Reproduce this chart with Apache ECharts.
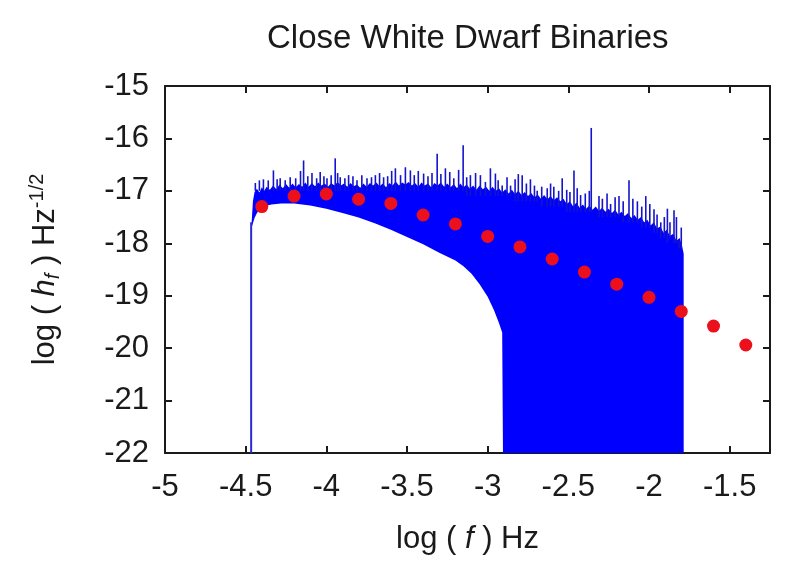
<!DOCTYPE html>
<html>
<head>
<meta charset="utf-8">
<script src="https://cdn.jsdelivr.net/npm/echarts@6/dist/echarts.min.js"></script>
<style>
  html, body { margin: 0; padding: 0; background: #ffffff; }
  #chart { width: 807px; height: 564px; }
</style>
</head>
<body>
<div id="chart"></div>
<script>
// Axis ranges (log10 of frequency / strain amplitude)
const xRange = [-5, -1.25];
const yRange = [-22, -15];

// Upper edge of the binned spectrum (log f, log h_f)
const bandTop = [
  [-4.463, -17.6], [-4.455, -17.2], [-4.445, -17.02], [-4.43, -16.96], [-4.415, -17.03],
  [-4.40, -16.93], [-4.385, -17.0], [-4.37, -16.92], [-4.35, -16.98], [-4.33, -16.9],
  [-4.31, -16.97], [-4.29, -16.88], [-4.27, -16.95], [-4.25, -16.87], [-4.23, -16.94],
  [-4.21, -16.86], [-4.19, -16.93], [-4.17, -16.87], [-4.15, -16.92], [-4.13, -16.84],
  [-4.11, -16.92], [-4.09, -16.85], [-4.07, -16.91], [-4.05, -16.84], [-4.03, -16.9],
  [-4.01, -16.86], [-3.99, -16.92], [-3.97, -16.85], [-3.95, -16.9], [-3.93, -16.83],
  [-3.91, -16.9], [-3.89, -16.86], [-3.87, -16.92], [-3.85, -16.85], [-3.83, -16.91],
  [-3.81, -16.88], [-3.79, -16.94], [-3.77, -16.86], [-3.75, -16.92], [-3.73, -16.85],
  [-3.71, -16.9], [-3.69, -16.84], [-3.67, -16.91], [-3.65, -16.86], [-3.63, -16.93],
  [-3.61, -16.85], [-3.59, -16.9], [-3.57, -16.82], [-3.55, -16.9], [-3.53, -16.84],
  [-3.51, -16.88], [-3.49, -16.83], [-3.47, -16.9], [-3.45, -16.85], [-3.43, -16.92],
  [-3.41, -16.84], [-3.39, -16.9], [-3.37, -16.86], [-3.35, -16.93], [-3.33, -16.85],
  [-3.31, -16.9], [-3.29, -16.84], [-3.27, -16.92], [-3.25, -16.86], [-3.23, -16.93],
  [-3.21, -16.87], [-3.19, -16.95], [-3.17, -16.86], [-3.15, -16.93], [-3.13, -16.88],
  [-3.11, -16.96], [-3.09, -16.9], [-3.07, -16.98], [-3.05, -16.9], [-3.03, -16.97],
  [-3.01, -16.92], [-2.99, -17.0], [-2.97, -16.92], [-2.95, -17.0], [-2.93, -16.95],
  [-2.91, -17.03], [-2.89, -16.97], [-2.87, -17.05], [-2.85, -16.98], [-2.83, -17.06],
  [-2.81, -17.0], [-2.79, -17.08], [-2.77, -17.02], [-2.75, -17.1], [-2.73, -17.04],
  [-2.71, -17.12], [-2.69, -17.07], [-2.67, -17.15], [-2.65, -17.08], [-2.63, -17.16],
  [-2.61, -17.1], [-2.59, -17.18], [-2.57, -17.12], [-2.55, -17.2], [-2.53, -17.15],
  [-2.51, -17.25], [-2.49, -17.2], [-2.47, -17.3], [-2.45, -17.22], [-2.43, -17.32],
  [-2.41, -17.26], [-2.39, -17.34], [-2.37, -17.28], [-2.35, -17.36], [-2.33, -17.3],
  [-2.31, -17.38], [-2.29, -17.32], [-2.27, -17.4], [-2.25, -17.34], [-2.23, -17.42],
  [-2.21, -17.36], [-2.19, -17.45], [-2.17, -17.4], [-2.15, -17.48], [-2.13, -17.42],
  [-2.11, -17.52], [-2.09, -17.46], [-2.07, -17.55], [-2.05, -17.5], [-2.03, -17.6],
  [-2.01, -17.55], [-1.99, -17.66], [-1.97, -17.6], [-1.95, -17.72], [-1.93, -17.68],
  [-1.91, -17.8], [-1.89, -17.74], [-1.87, -17.86], [-1.85, -17.82], [-1.83, -17.95],
  [-1.81, -17.9], [-1.795, -18.05], [-1.785, -18.2]
];

// Lower edge of the spectrum; above log f = -2.9 it runs down to the axis floor
const bandBottom = [
  [-4.463, -17.7], [-4.455, -17.62], [-4.445, -17.52], [-4.43, -17.42], [-4.41, -17.35],
  [-4.38, -17.29], [-4.34, -17.26], [-4.28, -17.24], [-4.2, -17.24], [-4.1, -17.28],
  [-4.0, -17.34], [-3.9, -17.42], [-3.8, -17.51], [-3.7, -17.62], [-3.6, -17.74],
  [-3.5, -17.88], [-3.4, -18.02], [-3.3, -18.18], [-3.2, -18.33], [-3.15, -18.44],
  [-3.1, -18.58], [-3.05, -18.78], [-3.0, -19.02], [-2.96, -19.28], [-2.93, -19.52],
  [-2.91, -19.7], [-2.905, -22], [-1.785, -22]
];

// Low-frequency cut-off of the population
const edgeLine = [[-4.466, -22], [-4.466, -17.6]];

// Individual loud sources: [log f, peak, foot]
const spikes = [
  [-4.44, -16.85, -17.0], [-4.415, -16.80, -17.0], [-4.39, -16.78, -17.0],
  [-4.36, -16.80, -17.0], [-4.328, -16.61, -17.0], [-4.305, -16.78, -17.0],
  [-4.286, -16.76, -17.0], [-4.255, -16.80, -17.0], [-4.224, -16.74, -17.0],
  [-4.19, -16.76, -17.0], [-4.16, -16.62, -17.0], [-4.141, -16.42, -17.0],
  [-4.115, -16.72, -17.0], [-4.089, -16.66, -17.0], [-4.06, -16.76, -17.0],
  [-4.038, -16.64, -17.0], [-4.015, -16.72, -17.0], [-3.996, -16.76, -17.0],
  [-3.97, -16.70, -17.0], [-3.945, -16.38, -17.0], [-3.93, -16.66, -17.0],
  [-3.914, -16.74, -17.0], [-3.885, -16.76, -17.0], [-3.862, -16.70, -17.0],
  [-3.835, -16.72, -17.0], [-3.81, -16.80, -17.0], [-3.78, -16.70, -17.0],
  [-3.748, -16.76, -17.0], [-3.72, -16.74, -17.0], [-3.696, -16.70, -17.0],
  [-3.67, -16.66, -17.0], [-3.645, -16.74, -17.0], [-3.62, -16.72, -17.0],
  [-3.595, -16.62, -17.0], [-3.572, -16.57, -17.0], [-3.54, -16.70, -17.0],
  [-3.51, -16.55, -17.0], [-3.479, -16.61, -17.0], [-3.455, -16.70, -17.0],
  [-3.43, -16.62, -17.0], [-3.397, -16.67, -17.0], [-3.37, -16.72, -17.0],
  [-3.345, -16.66, -17.0], [-3.313, -16.29, -17.0], [-3.29, -16.68, -17.0],
  [-3.262, -16.57, -17.0], [-3.235, -16.64, -17.0], [-3.21, -16.76, -17.0],
  [-3.18, -16.60, -17.0], [-3.152, -16.13, -17.0], [-3.13, -16.74, -17.1],
  [-3.107, -16.70, -17.1], [-3.075, -16.66, -17.1], [-3.045, -16.70, -17.1],
  [-3.014, -16.83, -17.1], [-2.983, -16.57, -17.1], [-2.952, -16.67, -17.1],
  [-2.935, -16.80, -17.1], [-2.91, -16.90, -17.1], [-2.88, -16.74, -17.1],
  [-2.858, -16.90, -17.1], [-2.83, -16.78, -17.2], [-2.81, -16.68, -17.2],
  [-2.786, -16.70, -17.2], [-2.76, -16.86, -17.2], [-2.735, -16.78, -17.2],
  [-2.71, -16.90, -17.2], [-2.693, -17.00, -17.2], [-2.665, -16.92, -17.3],
  [-2.631, -16.95, -17.3], [-2.61, -16.86, -17.3], [-2.59, -16.92, -17.3],
  [-2.56, -17.00, -17.3], [-2.538, -16.76, -17.3], [-2.51, -16.98, -17.4],
  [-2.49, -17.02, -17.4], [-2.465, -16.61, -17.4], [-2.445, -16.95, -17.4],
  [-2.424, -17.08, -17.4], [-2.395, -17.05, -17.4], [-2.37, -17.00, -17.4],
  [-2.358, -15.80, -17.4], [-2.31, -17.10, -17.5], [-2.289, -17.15, -17.5],
  [-2.26, -17.05, -17.5], [-2.238, -17.25, -17.5], [-2.21, -17.12, -17.5],
  [-2.186, -17.10, -17.5], [-2.16, -17.20, -17.6], [-2.124, -16.80, -17.6],
  [-2.10, -17.15, -17.6], [-2.072, -17.20, -17.6], [-2.045, -17.30, -17.7],
  [-2.02, -17.10, -17.7], [-1.995, -17.25, -17.7], [-1.969, -17.35, -17.8],
  [-1.95, -17.45, -17.8], [-1.927, -17.60, -17.9], [-1.905, -17.50, -17.9],
  [-1.886, -17.34, -18.0], [-1.87, -17.60, -17.9], [-1.845, -17.37, -18.0],
  [-1.83, -17.50, -18.0], [-1.814, -17.95, -18.1], [-1.80, -17.70, -18.1]
];

// Averaged spectrum in bins of 0.2 dex
const binFreq = [-4.4, -4.2, -4.0, -3.8, -3.6, -3.4, -3.2, -3.0,
                 -2.8, -2.6, -2.4, -2.2, -2.0, -1.8, -1.6, -1.4];
const binAmp = [-17.30, -17.10, -17.06, -17.16, -17.24, -17.46, -17.63, -17.87,
                -18.07, -18.30, -18.55, -18.78, -19.03, -19.30, -19.58, -19.94];

const FONT = 'Liberation Sans, Arial, Helvetica, sans-serif';
const INK = '#1a1a1a';
const BLUE = '#0000ff';

const chart = echarts.init(document.getElementById('chart'), null, { renderer: 'canvas' });

const frameLine = { show: true, onZero: false, lineStyle: { color: INK, width: 2 } };
const innerTick = { show: true, inside: true, length: 7, lineStyle: { color: INK, width: 2 } };

chart.setOption({
  animation: false,
  backgroundColor: '#ffffff',
  title: {
    text: 'Close White Dwarf Binaries',
    left: 262,
    top: 17,
    textStyle: { fontFamily: FONT, fontSize: 33, fontWeight: 'normal', color: INK }
  },
  grid: { left: 165, right: 37, top: 86, bottom: 111, containLabel: false },
  xAxis: [
    {
      type: 'value', position: 'bottom', min: xRange[0], max: xRange[1], interval: 0.5,
      axisLine: frameLine, axisTick: innerTick, splitLine: { show: false },
      axisLabel: { showMaxLabel: false, margin: 19, fontFamily: FONT, fontSize: 31, color: INK },
      name: '{t|log ( }{it|f}{t| ) Hz}',
      nameLocation: 'middle', nameGap: 71,
      nameTextStyle: {
        rich: {
          t: { fontFamily: FONT, fontSize: 31, color: INK },
          it: { fontFamily: FONT, fontSize: 31, fontStyle: 'italic', color: INK }
        }
      }
    },
    {
      type: 'value', position: 'top', min: xRange[0], max: xRange[1], interval: 0.5,
      axisLine: frameLine, axisTick: innerTick, splitLine: { show: false },
      axisLabel: { show: false }
    }
  ],
  yAxis: [
    {
      type: 'value', position: 'left', min: yRange[0], max: yRange[1], interval: 1,
      axisLine: frameLine, axisTick: innerTick, splitLine: { show: false },
      axisLabel: { margin: 16, fontFamily: FONT, fontSize: 31, color: INK },
      name: '{t|log ( }{it|h}{sub|f}{t| ) Hz}{sup|-1/2}',
      nameLocation: 'middle', nameGap: 100,
      nameTextStyle: {
        rich: {
          t: { fontFamily: FONT, fontSize: 31, color: INK, lineHeight: 40, verticalAlign: 'middle' },
          it: { fontFamily: FONT, fontSize: 31, fontStyle: 'italic', color: INK, lineHeight: 40, verticalAlign: 'middle' },
          sub: { fontFamily: FONT, fontSize: 20, fontStyle: 'italic', color: INK, lineHeight: 40, verticalAlign: 'bottom', padding: [0, 0, 2, 0] },
          sup: { fontFamily: FONT, fontSize: 20, color: INK, lineHeight: 40, verticalAlign: 'top', padding: [2, 0, 0, 0] }
        }
      }
    },
    {
      type: 'value', position: 'right', min: yRange[0], max: yRange[1], interval: 1,
      axisLine: frameLine, axisTick: innerTick, splitLine: { show: false },
      axisLabel: { show: false }
    }
  ],
  series: [
    {
      // filled envelope of the spectrum
      type: 'custom',
      data: bandTop,
      encode: { x: 0, y: 1 },
      z: 2,
      silent: true,
      renderItem: function (params, api) {
        if (params.dataIndex !== 0) return null;
        const outline = bandTop.map(function (p) { return api.coord(p); })
          .concat(bandBottom.slice().reverse().map(function (p) { return api.coord(p); }));
        return { type: 'polygon', shape: { points: outline }, style: { fill: BLUE } };
      }
    },
    {
      // narrow peaks from bright individual binaries
      type: 'custom',
      data: spikes,
      encode: { x: 0, y: [1, 2] },
      z: 3,
      silent: true,
      renderItem: function (params, api) {
        const tip = api.coord([api.value(0), api.value(1)]);
        const foot = api.coord([api.value(0), api.value(2)]);
        return {
          type: 'line',
          shape: { x1: tip[0], y1: tip[1], x2: foot[0], y2: foot[1] },
          style: { stroke: '#1414cc', lineWidth: 1.6 }
        };
      }
    },
    {
      type: 'line',
      data: edgeLine,
      symbol: 'none',
      z: 3,
      lineStyle: { color: '#2a2ad0', width: 2 }
    },
    {
      type: 'scatter',
      data: binFreq.map(function (f, i) { return [f, binAmp[i]]; }),
      symbol: 'circle',
      symbolSize: 13,
      z: 5,
      itemStyle: { color: '#ec101c', opacity: 1 }
    }
  ]
});
</script>
</body>
</html>
